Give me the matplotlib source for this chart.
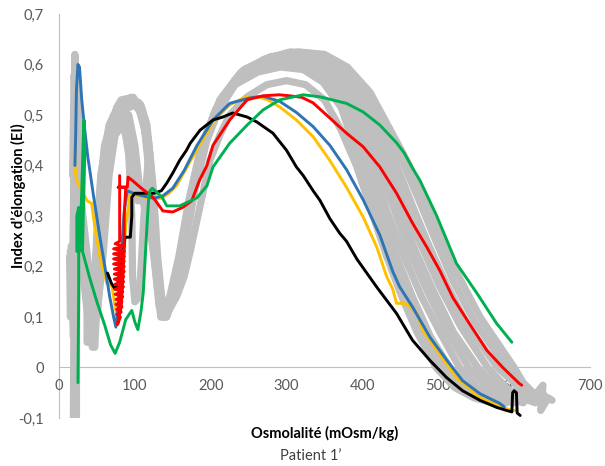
import matplotlib
matplotlib.use("Agg")
import matplotlib.pyplot as plt
from matplotlib.ticker import FuncFormatter, MultipleLocator

plt.rcParams['font.family'] = ['Lato', 'DejaVu Sans']

# ---- data (osmolality, elongation index) ----
blue_x = [21, 22, 23, 25, 27, 30, 34, 38, 46, 54, 61, 67, 72, 75, 78, 82, 86, 90, 98, 110, 125, 137, 150, 165, 182, 203, 225,
          252, 269, 291, 313, 335, 357, 379, 401, 423, 440, 449, 466, 489, 511, 532, 555, 581, 587]
blue_y = [0.40, 0.46, 0.55, 0.60, 0.595, 0.53, 0.47, 0.417, 0.335, 0.258, 0.195, 0.139, 0.10, 0.08, 0.12, 0.22, 0.31, 0.35,
          0.345, 0.34, 0.335, 0.34, 0.355, 0.39, 0.44, 0.49, 0.523, 0.534, 0.537, 0.527, 0.505, 0.477, 0.44, 0.392, 0.332,
          0.262, 0.19, 0.16, 0.12, 0.06, 0.015, -0.026, -0.052, -0.071, -0.078]

yellow_x = [20, 21, 21, 23, 28, 37, 43, 48, 54, 63, 70, 74, 78, 81, 84, 88, 94, 105, 120, 135, 145, 155, 170, 185, 205, 225,
            245, 260, 275, 291, 313, 335, 357, 379, 401, 419, 432, 440, 445, 456, 466, 471, 480, 498, 524, 555, 585, 597, 603]
yellow_y = [0.42, 0.45, 0.40, 0.37, 0.357, 0.33, 0.325, 0.27, 0.218, 0.167, 0.16, 0.12, 0.087, 0.12, 0.18, 0.28, 0.345, 0.34,
            0.335, 0.335, 0.345, 0.36, 0.40, 0.44, 0.49, 0.52, 0.535, 0.537, 0.53, 0.516, 0.49, 0.457, 0.41, 0.357, 0.298,
            0.238, 0.18, 0.155, 0.127, 0.127, 0.117, 0.11, 0.073, 0.034, -0.02, -0.06, -0.079, -0.085, -0.085]

# the red trace is very noisy around its minimum (solid red patch near x=80)
red_x = [80, 80, 74, 86, 72, 86, 72, 86, 72, 86, 72, 86, 73, 86, 73, 85, 73, 85, 74, 85, 74, 84, 74, 84, 75, 83, 75, 83, 76,
         82, 76, 81, 77, 82, 84, 86, 86, 88, 78, 90, 91, 97, 107, 124, 137, 150, 163, 175, 185, 195, 203, 225, 248, 269, 290,
         304, 320, 335, 357, 379, 401, 423, 445, 466, 485, 502, 519, 541, 564, 585, 607, 610]
red_y = [0.38, 0.25, 0.245, 0.24, 0.235, 0.23, 0.225, 0.22, 0.215, 0.21, 0.205, 0.20, 0.195, 0.19, 0.185, 0.18, 0.175, 0.17,
         0.165, 0.16, 0.155, 0.15, 0.145, 0.14, 0.135, 0.13, 0.125, 0.12, 0.115, 0.11, 0.105, 0.10, 0.085, 0.12, 0.17, 0.24,
         0.30, 0.357, 0.357, 0.357, 0.377, 0.37, 0.357, 0.337, 0.31, 0.308, 0.317, 0.33, 0.37, 0.40, 0.44, 0.49, 0.53, 0.538,
         0.54, 0.538, 0.535, 0.524, 0.494, 0.464, 0.437, 0.397, 0.345, 0.286, 0.238, 0.192, 0.139, 0.087, 0.034, 0.0, -0.032,
         -0.035]

green_x = [25, 26, 26, 23.5, 23.5, 27, 29, 32, 33, 34, 32, 31, 40, 50, 60, 68, 74, 80, 88, 96, 100, 104, 108, 111, 113, 116,
           118, 120, 123, 136, 142, 159, 182, 195, 203, 225, 248, 269, 291, 322, 344, 379, 401, 423, 445, 455, 466, 476, 487,
           498, 524, 551, 577, 597]
green_y = [-0.03, 0.15, 0.317, 0.30, 0.23, 0.23, 0.30, 0.45, 0.49, 0.42, 0.30, 0.23, 0.18, 0.13, 0.085, 0.045, 0.028, 0.05,
           0.095, 0.113, 0.09, 0.075, 0.11, 0.147, 0.20, 0.28, 0.33, 0.35, 0.355, 0.337, 0.32, 0.32, 0.336, 0.36, 0.397, 0.444,
           0.48, 0.51, 0.53, 0.54, 0.536, 0.523, 0.506, 0.48, 0.445, 0.425, 0.395, 0.37, 0.335, 0.30, 0.206, 0.147, 0.087, 0.05]

black_x = [64, 69, 74, 78, 83, 87, 94, 96, 96, 100, 115, 125, 135, 142, 150, 159, 168, 173, 186, 203, 216, 229, 248, 261, 282,
           300, 313, 322, 335, 344, 357, 370, 379, 393, 419, 445, 466, 489, 511, 532, 555, 577, 590, 597, 598, 600, 603, 604,
           608]
black_y = [0.187, 0.167, 0.155, 0.17, 0.21, 0.258, 0.258, 0.30, 0.337, 0.345, 0.345, 0.345, 0.35, 0.365, 0.385, 0.41, 0.43,
           0.444, 0.47, 0.49, 0.496, 0.504, 0.496, 0.486, 0.464, 0.43, 0.397, 0.38, 0.35, 0.331, 0.295, 0.266, 0.25, 0.214,
           0.159, 0.107, 0.054, 0.014, -0.02, -0.046, -0.065, -0.079, -0.085, -0.088, -0.05, -0.046, -0.05, -0.09, -0.095]

# grey reference curves
g1_x = [20, 21, 21, 23, 27, 33, 40, 46, 50, 56, 64, 76, 90, 104, 113, 120, 126, 132, 140, 155, 165, 173, 186, 199, 212, 225,
        248, 274, 300, 325, 350, 372, 392, 412, 432, 452, 472, 497, 522, 547, 572]
g1_y = [-0.10, 0.30, 0.62, 0.50, 0.36, 0.22, 0.12, 0.06, 0.18, 0.33, 0.45, 0.515, 0.53, 0.52, 0.47, 0.37, 0.24, 0.13, 0.10,
        0.14, 0.18, 0.23, 0.32, 0.41, 0.46, 0.50, 0.536, 0.56, 0.568, 0.56, 0.53, 0.47, 0.40, 0.31, 0.22, 0.14, 0.07, 0.00,
        -0.04, -0.06, -0.07]
g2_x = [16, 17, 19, 22, 22, 24, 30, 38, 44, 49, 55, 66, 82, 98, 110, 118, 124, 130, 136, 148, 160, 172, 188, 208, 232, 262,
        292, 322, 348, 372, 398, 418, 438, 458, 480, 505, 530, 555, 580]
g2_y = [0.24, 0.15, 0.06, 0.25, 0.55, 0.40, 0.28, 0.16, 0.08, 0.22, 0.38, 0.48, 0.53, 0.535, 0.50, 0.42, 0.30, 0.17, 0.10,
        0.14, 0.22, 0.33, 0.43, 0.51, 0.56, 0.585, 0.595, 0.59, 0.565, 0.515, 0.40, 0.31, 0.22, 0.14, 0.07, 0.00, -0.04,
        -0.06, -0.072]
g3_x = [18, 20, 22, 26, 32, 38, 44, 52, 60, 68, 80, 92, 100, 106, 112, 118, 125, 131, 138, 150, 162, 175, 190, 210, 235, 265,
        295, 325, 352, 378, 405, 425, 445, 466, 490, 515, 540, 565, 590]
g3_y = [0.38, 0.58, 0.45, 0.30, 0.18, 0.10, 0.04, 0.14, 0.30, 0.44, 0.51, 0.50, 0.44, 0.36, 0.32, 0.30, 0.22, 0.14, 0.10,
        0.15, 0.23, 0.34, 0.44, 0.52, 0.57, 0.595, 0.605, 0.60, 0.575, 0.52, 0.40, 0.31, 0.22, 0.14, 0.06, 0.00, -0.04, -0.06,
        -0.07]
g4_x = [22, 23, 24, 25, 27, 32, 37, 39, 45, 52, 62, 78, 94, 108, 116, 122, 128, 135, 147, 160, 172, 187, 207, 232, 262, 295,
        328, 355, 382, 412, 432, 455, 478, 502, 528, 552, 578, 600]
g4_y = [-0.10, 0.10, 0.45, 0.55, 0.40, 0.25, 0.15, 0.05, 0.10, 0.26, 0.43, 0.52, 0.53, 0.51, 0.45, 0.33, 0.19, 0.10, 0.13,
        0.21, 0.31, 0.42, 0.50, 0.56, 0.59, 0.605, 0.60, 0.58, 0.53, 0.40, 0.31, 0.22, 0.14, 0.07, 0.00, -0.04, -0.06, -0.07]
g5_x = [14, 15, 17, 19, 21, 23, 28, 35, 42, 50, 58, 66, 74, 84, 92, 98, 104, 112, 120, 127, 132, 140, 152, 164, 177, 193, 213,
        240, 270, 302, 332, 360, 388, 420, 440, 462, 486, 512, 540, 565, 590, 612]
g5_y = [0.22, 0.10, 0.12, 0.30, 0.60, 0.42, 0.30, 0.17, 0.10, 0.10, 0.22, 0.38, 0.46, 0.48, 0.44, 0.36, 0.33, 0.35, 0.30,
        0.20, 0.12, 0.10, 0.15, 0.24, 0.35, 0.45, 0.53, 0.58, 0.605, 0.615, 0.61, 0.59, 0.54, 0.40, 0.32, 0.23, 0.15, 0.07,
        0.00, -0.04, -0.06, -0.07]
g6_x = [20, 21, 23, 29, 36, 40, 46, 52, 60, 72, 84, 92, 96, 97, 100, 106, 112, 118, 124, 130, 134, 146, 158, 171, 186, 206,
        232, 264, 298, 330, 360, 390, 428, 448, 470, 494, 520, 552, 578, 600, 620]
g6_y = [0.40, 0.55, 0.42, 0.28, 0.15, 0.07, 0.15, 0.32, 0.44, 0.50, 0.50, 0.42, 0.30, 0.18, 0.13, 0.14, 0.30, 0.42, 0.32,
        0.17, 0.10, 0.14, 0.22, 0.33, 0.43, 0.51, 0.57, 0.60, 0.615, 0.615, 0.595, 0.55, 0.40, 0.32, 0.23, 0.15, 0.07, 0.00,
        -0.04, -0.06, -0.065]
g7_x = [19, 20, 21, 22, 25, 31, 37, 37, 42, 48, 56, 66, 80, 95, 108, 116, 121, 126, 132, 142, 154, 166, 179, 195, 216, 243,
        275, 308, 340, 368, 398, 436, 456, 478, 502, 530, 565, 590, 610, 628]
g7_y = [-0.10, 0.20, 0.50, 0.40, 0.30, 0.20, 0.14, 0.05, 0.06, 0.20, 0.36, 0.47, 0.525, 0.535, 0.52, 0.48, 0.40, 0.28, 0.16,
        0.10, 0.15, 0.24, 0.35, 0.45, 0.53, 0.585, 0.61, 0.62, 0.615, 0.595, 0.545, 0.40, 0.32, 0.24, 0.16, 0.08, 0.00, -0.04,
        -0.06, -0.07]
g8_x = [15, 16, 17, 19, 20, 21, 22, 24, 30, 38, 45, 47, 50, 56, 65, 78, 92, 105, 114, 120, 124, 130, 134, 137, 149, 161, 174,
        189, 210, 238, 270, 305, 338, 368, 400, 445, 466, 488, 512, 540, 578, 600, 615, 630, 638, 635, 645, 650]
g8_y = [0.23, 0.16, 0.10, 0.20, 0.45, 0.58, 0.50, 0.36, 0.24, 0.15, 0.13, 0.04, 0.12, 0.30, 0.44, 0.51, 0.525, 0.525, 0.49,
        0.42, 0.33, 0.20, 0.13, 0.10, 0.15, 0.23, 0.34, 0.44, 0.52, 0.58, 0.61, 0.625, 0.62, 0.60, 0.55, 0.40, 0.32, 0.24,
        0.16, 0.08, 0.00, -0.03, -0.06, -0.05, -0.035, -0.085, -0.06, -0.065]
g9_x = [21, 22, 23, 26, 30, 35, 40, 44, 49, 55, 62, 72, 86, 100, 110, 117, 123, 129, 134, 139, 151, 163, 176, 192, 212, 240,
        272, 310, 345, 375, 405, 455, 475, 497, 520, 548, 590, 605, 620, 635]
g9_y = [0.45, 0.60, 0.52, 0.40, 0.30, 0.22, 0.15, 0.10, 0.16, 0.30, 0.42, 0.48, 0.51, 0.52, 0.50, 0.44, 0.34, 0.20, 0.12,
        0.10, 0.15, 0.23, 0.34, 0.45, 0.53, 0.585, 0.61, 0.62, 0.615, 0.59, 0.54, 0.40, 0.33, 0.25, 0.17, 0.09, 0.00, -0.03,
        -0.05, -0.06]
g10_x = [23, 23, 24, 24, 26, 30, 36, 42, 50, 56, 62, 70, 82, 96, 110, 118, 124, 130, 136, 141, 153, 165, 178, 194, 215, 244,
         278, 315, 350, 380, 410, 462, 482, 503, 527, 555, 600, 612, 625, 640]
g10_y = [-0.10, 0.05, 0.30, 0.48, 0.42, 0.32, 0.24, 0.16, 0.10, 0.22, 0.36, 0.46, 0.52, 0.53, 0.51, 0.45, 0.36, 0.22, 0.13,
         0.10, 0.16, 0.25, 0.36, 0.46, 0.535, 0.59, 0.615, 0.625, 0.62, 0.595, 0.545, 0.40, 0.33, 0.26, 0.18, 0.10, 0.00,
         -0.03, -0.05, -0.055]

x_ticks = [0, 100, 200, 300, 400, 500, 600, 700]

fig = plt.figure(figsize=(6.05, 4.66), dpi=100)
ax = fig.add_axes([0.0975, 0.103, 0.8777, 0.867])

grey = [(g1_x, g1_y), (g2_x, g2_y), (g3_x, g3_y), (g4_x, g4_y), (g5_x, g5_y),
        (g6_x, g6_y), (g7_x, g7_y), (g8_x, g8_y), (g9_x, g9_y), (g10_x, g10_y)]
for gx, gy in grey:
    ax.plot(gx, gy, color='#BFBFBF', lw=5.2, solid_joinstyle='round', solid_capstyle='round', zorder=2)

for xs, ys, c in [(yellow_x, yellow_y, '#FFC000'),
                  (blue_x, blue_y, '#2E75B6'),
                  (black_x, black_y, '#000000'),
                  (red_x, red_y, '#FF0000'),
                  (green_x, green_y, '#00B050')]:
    ax.plot(xs, ys, color=c, lw=2.1, solid_joinstyle='round', solid_capstyle='round', zorder=3)

ax.set_xlim(0, 700)
ax.set_ylim(-0.1, 0.7)
ax.set_xticks(x_ticks)
ax.yaxis.set_major_locator(MultipleLocator(0.1))


def fmt_y(v, pos):
    if abs(v) < 1e-9:
        return '0'
    return f'{v:.1f}'.replace('.', ',')


ax.yaxis.set_major_formatter(FuncFormatter(fmt_y))

for s in ['top', 'right']:
    ax.spines[s].set_visible(False)
ax.spines['left'].set_color('#BFBFBF')
ax.spines['bottom'].set_color('#BFBFBF')
ax.spines['bottom'].set_position(('data', 0))
ax.spines['bottom'].set_zorder(1)
ax.spines['left'].set_zorder(1)
ax.tick_params(axis='both', length=0, labelsize=10.5, labelcolor='#595959')
ax.tick_params(axis='y', pad=11)
ax.tick_params(axis='x', pad=8)

fig.text(18 / 605, 1 - 196 / 466, 'Index d’élongation (EI)', rotation=90, ha='center', va='center',
         fontsize=10.5, fontweight='bold', color='#000000')
fig.text(325 / 605, 1 - 433 / 466, 'Osmolalité (mOsm/kg)', ha='center', va='center',
         fontsize=10.5, fontweight='bold', color='#000000')
fig.text(311 / 605, 1 - 456 / 466, 'Patient 1’', ha='center', va='center',
         fontsize=10.5, color='#404040')

fig.savefig('out.png', dpi=100)
